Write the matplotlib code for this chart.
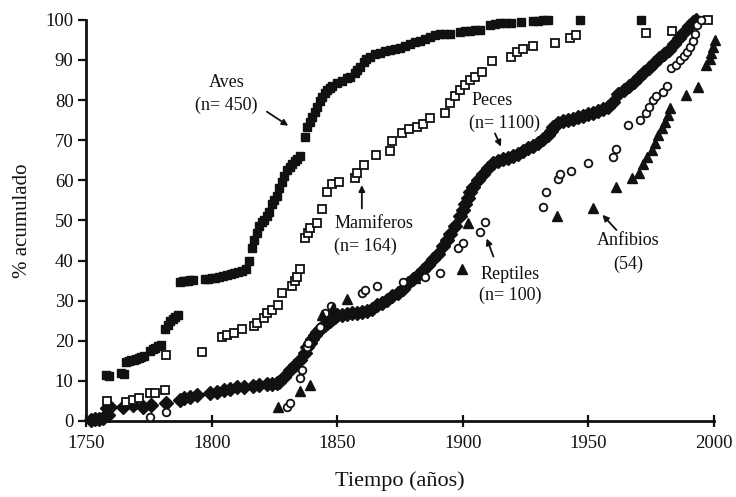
import matplotlib
matplotlib.use("Agg")
import matplotlib.pyplot as plt

plt.rcParams['font.family'] = ['Liberation Serif', 'DejaVu Serif']

# ---------------- data ----------------
aves_year = [1758, 1759, 1764, 1765, 1766, 1767, 1768, 1769, 1770, 1771, 1772, 1773,
             1775.5, 1776.5, 1777.5, 1778.5, 1780, 1781.5, 1782.5, 1783.5, 1784.5, 1785.5, 1786.5,
             1787.5, 1788.5, 1789.5, 1790.5, 1791.5, 1792.5, 1797.5, 1798.5, 1800, 1801.5, 1803,
             1804.5, 1806, 1807.5, 1809, 1810.5, 1812, 1813.5, 1815, 1816, 1817, 1818, 1819, 1820,
             1821, 1822, 1823, 1824, 1825, 1826, 1827, 1828, 1829, 1830, 1831, 1832, 1833, 1834,
             1835, 1837, 1838, 1839, 1840, 1841, 1842, 1843, 1844, 1845, 1846, 1847, 1848, 1850,
             1852, 1854, 1855, 1857, 1858, 1859, 1860.5, 1861.5, 1863, 1865, 1867, 1869, 1871,
             1873, 1875, 1877, 1879, 1881, 1883, 1885, 1887, 1889, 1891, 1893, 1895, 1899, 1901,
             1903, 1905, 1907, 1911, 1913, 1915, 1917, 1919, 1923, 1928, 1930, 1932, 1934,
             1946.5, 1971]
aves_pct = [11.5, 11.2, 12, 11.8, 14.8, 15, 15.1, 15.2, 15.4, 15.6, 15.9, 16.2,
            17.5, 18, 18.3, 18.6, 19, 23, 24, 25, 25.5, 26, 26.4,
            34.7, 34.8, 35, 35, 35.1, 35.2, 35.3, 35.5, 35.6, 35.7, 36,
            36.2, 36.4, 36.6, 37, 37.2, 37.5, 37.8, 40, 43, 45, 46.8, 48.5, 49.5,
            50, 51, 52, 54, 55, 56, 58, 59.6, 61, 62.5, 63.4, 64, 64.8, 65.3,
            66, 70.9, 73.2, 74.5, 75.8, 77, 78.3, 79.8, 80.8, 81.7, 82.5, 83, 83.5, 84.2,
            84.8, 85.4, 85.8, 86.8, 87.5, 88.3, 89.6, 90.2, 90.8, 91.5, 91.8, 92.2, 92.5,
            92.8, 93, 93.5, 94, 94.4, 94.8, 95.3, 95.8, 96.2, 96.6, 96.5, 96.5, 97, 97.2,
            97.3, 97.5, 97.6, 98.8, 99, 99.1, 99.2, 99.3, 99.4, 99.8, 99.8, 99.9, 99.9,
            100, 100]

mam_year = [1758.5, 1766, 1768.7, 1771, 1775.5, 1777.5, 1781.5, 1782, 1796, 1804, 1806, 1809,
            1812, 1817, 1818, 1821, 1822, 1824, 1826.5, 1828, 1832, 1833, 1834, 1835, 1837,
            1838.5, 1839, 1842, 1844, 1846, 1848, 1850.7, 1857, 1858, 1860.7, 1865.5, 1871,
            1872, 1875.7, 1878.6, 1881.6, 1884, 1887, 1893, 1895, 1897, 1899, 1901, 1903, 1905,
            1907.5, 1911.5, 1919, 1921.5, 1924, 1928, 1936.7, 1942.7, 1945, 1973, 1983.5, 1997.6]
mam_pct = [5, 4.8, 5.2, 5.7, 7, 7, 7.7, 16.5, 17.3, 20.9, 21.5, 22,
           23, 23.7, 24.4, 25.7, 27, 27.7, 29, 31.9, 33.7, 35, 36, 37.9, 45.6,
           46.9, 48, 49.4, 52.8, 57, 59, 59.7, 60.5, 61.8, 63.8, 66.3, 67.2,
           69.9, 71.7, 72.7, 73.4, 74, 75.5, 76.7, 79.3, 81, 82.5, 83.8, 85, 85.8,
           87, 89.8, 90.7, 92, 92.7, 93.4, 94.2, 95.5, 96.2, 96.7, 97.3, 100]

pez_year = [1752, 1753.5, 1755, 1756.8, 1758.2, 1758.8, 1759.5, 1764.8, 1768.8, 1772.7, 1776,
            1782, 1787.4, 1789, 1791.4, 1794, 1799.4, 1802, 1805, 1807.3, 1810, 1813, 1816.5,
            1819, 1822, 1824, 1826, 1827, 1829, 1831, 1833, 1835, 1837, 1838, 1839, 1840, 1841,
            1842, 1843, 1844, 1845, 1846, 1847, 1848, 1849, 1850, 1852, 1854, 1856, 1858, 1860,
            1862, 1864, 1866, 1868, 1870, 1872, 1874, 1876, 1878, 1880, 1882, 1884, 1886, 1888,
            1890, 1892, 1893.6, 1895, 1897, 1899, 1900, 1901, 1902, 1903, 1904, 1906, 1908, 1910,
            1912, 1914, 1916, 1918, 1920, 1922, 1924, 1926, 1928, 1930, 1932, 1934, 1935, 1936,
            1938, 1940, 1942, 1944, 1946, 1948, 1950, 1952, 1954, 1956, 1958, 1960, 1962, 1964,
            1966, 1968, 1970, 1972, 1974, 1976, 1978, 1980, 1982, 1984, 1986, 1988, 1990,
            1991.5, 1993]
pez_pct = [0.2, 0.4, 0.6, 0.7, 3.2, 1.5, 3.5, 3.6, 4, 3.6, 4,
           4.4, 5.2, 5.6, 6, 6.5, 7, 7.3, 7.6, 7.9, 8.4, 8.5, 8.6,
           8.9, 9.2, 9.3, 9.5, 9.8, 11, 12.7, 14, 15.2, 17, 18.5, 19.5, 20.5, 21.5,
           22.3, 23, 23.5, 24, 24.5, 25, 25.5, 26, 26.5, 26.5, 26.6, 26.8, 27, 27.2,
           27.5, 28, 28.8, 29.4, 30.2, 31.2, 32, 33, 34.5, 35.5, 36.5, 37.7, 39, 40.3,
           41.7, 43.5, 45, 46.5, 48.5, 51, 52.5, 54, 55.5, 57, 58.3, 60, 61.5, 63,
           64.2, 64.8, 65.2, 65.5, 66, 66.5, 67.2, 68, 68.6, 69.4, 70.2, 71.2, 72.3, 73.4,
           74.4, 74.8, 75, 75.3, 75.7, 76, 76.5, 76.8, 77.2, 77.7, 78.4, 79.5, 81.5, 82.5,
           83.5, 84.5, 85.8, 87, 88, 89.3, 90.5, 91.5, 92.5, 94, 95.5, 97, 98.5,
           99.5, 100]

rep_year = [1775.5, 1782, 1830, 1831, 1835, 1836, 1838, 1838.5, 1843, 1845, 1847.5, 1860, 1861,
            1866, 1876, 1885, 1891, 1898, 1900, 1907, 1909, 1932, 1933, 1938, 1938.7, 1943,
            1950, 1960, 1961, 1965.8, 1970.5, 1973, 1974.3, 1975.6, 1977, 1979.6, 1981.4,
            1982.8, 1985, 1986.5, 1988, 1989.4, 1990.4, 1991.5, 1992.4, 1993.4, 1995]
rep_pct = [1, 2.3, 3.6, 4.6, 10.7, 12.7, 18.5, 19.4, 23.5, 27, 28.7, 32, 32.7,
           33.7, 34.7, 35.9, 37, 43, 44.4, 47.2, 49.7, 53.4, 57.2, 60.3, 61.6, 62.4,
           64.4, 65.9, 67.8, 73.8, 75, 76.7, 78.4, 80, 80.9, 81.9, 83.5,
           88, 88.8, 90, 91, 92.1, 93.3, 94.8, 96.6, 98.7, 100]

anf_year = [1826.5, 1835, 1839, 1844, 1848.4, 1854, 1881, 1899.5, 1902, 1937.5, 1952, 1961,
            1967.2, 1970.3, 1971.8, 1973.4, 1975.2, 1976.5, 1977.8, 1979.2, 1980.5, 1981.8,
            1982.5, 1989, 1993.7, 1997, 1998.4, 1999, 1999.7, 2000.4]
anf_pct = [3.6, 7.5, 9, 26.4, 28.1, 30.3, 35.7, 37.9, 49.3, 51, 53, 58.4,
           60.5, 61.9, 64.1, 65.9, 67.6, 69.4, 71.3, 73, 74.6, 76.3,
           78, 81.3, 83.2, 88.8, 90.2, 91.7, 93.3, 95]

x_ticks = [1750, 1800, 1850, 1900, 1950, 2000]
y_ticks = [0, 10, 20, 30, 40, 50, 60, 70, 80, 90, 100]

# ---------------- figure ----------------
fig = plt.figure(figsize=(7.36, 4.97), dpi=100)
ax = fig.add_axes([0.117, 0.153, 0.853, 0.807])

ink = '#111111'
ax.plot(pez_year, pez_pct, linestyle='none', marker='D', ms=6.8, color=ink, clip_on=False, zorder=3)
ax.plot(aves_year, aves_pct, linestyle='none', marker='s', ms=6.3, color=ink, clip_on=False, zorder=3)
ax.plot(mam_year, mam_pct, linestyle='none', marker='s', ms=6, mfc='white', mec=ink, mew=1.3,
        clip_on=False, zorder=4)
ax.plot(rep_year, rep_pct, linestyle='none', marker='o', ms=5.5, mfc='white', mec=ink, mew=1.3,
        clip_on=False, zorder=4)
ax.plot(anf_year, anf_pct, linestyle='none', marker='^', ms=7, color=ink, clip_on=False, zorder=5)

ax.set_xlim(1750, 2000)
ax.set_ylim(0, 100)
ax.set_xticks(x_ticks)
ax.set_yticks(y_ticks)
for s in ['top', 'right']:
    ax.spines[s].set_visible(False)
for s in ['left', 'bottom']:
    ax.spines[s].set_linewidth(2)
    ax.spines[s].set_color(ink)
ax.tick_params(axis='x', direction='inout', length=8, width=1.6, labelsize=13.5, colors=ink, pad=6)
ax.tick_params(axis='y', direction='out', length=6, width=1.6, labelsize=13.5, colors=ink, pad=3)

ax.set_xlabel('Tiempo (años)', fontsize=16, color=ink, labelpad=14)
ax.set_ylabel('% acumulado', fontsize=15, color=ink, labelpad=10)

arrow = dict(arrowstyle='-|>', lw=1.3, color=ink, mutation_scale=9, shrinkA=0, shrinkB=0)
fs = 13
ax.text(1806, 84.5, 'Aves', ha='center', va='center', fontsize=fs, color=ink)
ax.text(1806, 78.8, '(n= 450)', ha='center', va='center', fontsize=fs, color=ink)
ax.annotate('', xy=(1830.5, 73.6), xytext=(1822, 77.1), arrowprops=arrow)

ax.text(1903.5, 80, 'Peces', ha='left', va='center', fontsize=fs, color=ink)
ax.text(1902.5, 74.3, '(n= 1100)', ha='left', va='center', fontsize=fs, color=ink)
ax.annotate('', xy=(1915.2, 68.4), xytext=(1912.8, 71.7), arrowprops=arrow)

ax.text(1849, 49.3, 'Mamiferos', ha='left', va='center', fontsize=fs, color=ink)
ax.text(1848.6, 43.5, '(n= 164)', ha='left', va='center', fontsize=fs, color=ink)
ax.annotate('', xy=(1859.8, 58.8), xytext=(1859.8, 53.0), arrowprops=arrow)

ax.text(1919, 36.4, 'Reptiles', ha='center', va='center', fontsize=fs, color=ink)
ax.text(1919, 31.4, '(n= 100)', ha='center', va='center', fontsize=fs, color=ink)
ax.annotate('', xy=(1909.5, 45.5), xytext=(1912.2, 41), arrowprops=arrow)

ax.text(1966, 45, 'Anfibios', ha='center', va='center', fontsize=fs, color=ink)
ax.text(1966, 39, '(54)', ha='center', va='center', fontsize=fs, color=ink)
ax.annotate('', xy=(1955.6, 51.4), xytext=(1961.2, 47.6), arrowprops=arrow)

fig.savefig('out.png', dpi=100, facecolor='white')
